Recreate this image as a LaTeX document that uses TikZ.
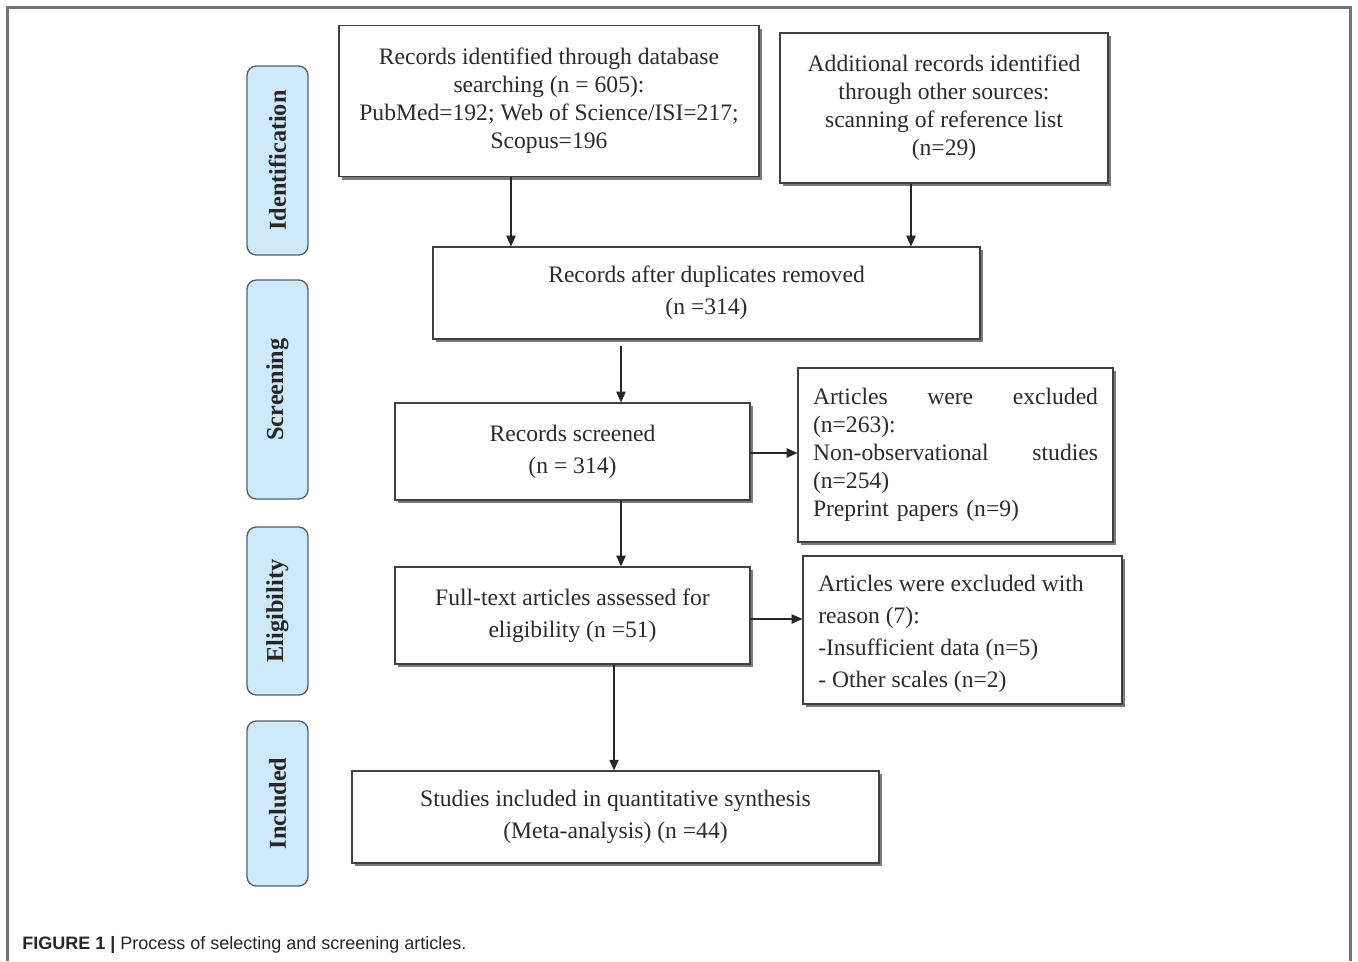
\documentclass[tikz,border=0pt]{standalone}
\usepackage{fontspec}
\setmainfont{Liberation Serif}
\newfontfamily\capfont{Liberation Sans}
\usetikzlibrary{arrows.meta,shadows}
\definecolor{stagefill}{HTML}{CDE9FA}
\definecolor{stageline}{HTML}{56606A}
\definecolor{inktext}{HTML}{2B2B2B}
\tikzset{
  box/.style={draw=black!75, line width=0.9pt, fill=white, align=center,
    text=inktext, font=\fontsize{17.7}{21}\selectfont, inner sep=0pt,
    drop shadow={shadow xshift=2.4pt, shadow yshift=-2.4pt, fill=black!65, opacity=0.8}},
  widebox/.style={box, font=\fontsize{17.7}{24}\selectfont},
  stage/.style={draw=stageline, line width=1pt, fill=stagefill, rounded corners=7pt,
    rotate=90, font=\fontsize{18.2}{20}\selectfont\bfseries, text=black!85,
    minimum height=45.75pt, inner sep=0pt},
  arr/.style={-{Triangle[length=8pt,width=7pt]}, line width=0.9pt, black!85},
}
\begin{document}
\begin{tikzpicture}[x=0.75pt, y=-0.75pt]
\useasboundingbox (0,0) rectangle (1358,961);
\draw[black!55, line width=1.6pt] (7.5,961) -- (7.5,7.5) -- (1350.5,7.5) -- (1350.5,961);

% stages
\node[stage, minimum width=141.75pt] (ident) at (277.5,160.5) {Identification};
\node[stage, minimum width=164.25pt] (screen) at (277.5,389.5) {Screening};
\node[stage, minimum width=126pt] (elig) at (277.5,611) {Eligibility};
\node[stage, minimum width=123.75pt] (incl) at (277.5,803.5) {Included};

% boxes
\node[box, minimum width=315pt, minimum height=113.25pt] (db) at (549,101)
  {Records identified through database\\searching (n = 605):\\PubMed=192; Web of Science/ISI=217;\\Scopus=196};
\node[box, minimum width=246pt, minimum height=112.5pt] (other) at (944,108)
  {Additional records identified\\through other sources:\\scanning of reference list\\(n=29)};
\node[widebox, minimum width=410.25pt, minimum height=69pt] (dup) at (706.5,293)
  {Records after duplicates removed\\(n =314)};
\node[widebox, minimum width=266.25pt, minimum height=72.75pt] (scr) at (572.5,451.5)
  {Records screened\\(n = 314)};
\node[box, minimum width=236.25pt, minimum height=130.5pt] (exone) at (955.5,455) {};
\node[text=inktext, font=\fontsize{17.7}{21}\selectfont, text width=213.75pt, align=left, inner sep=0pt]
  (exonetext) at (exone.center)
  {Articles\hfill were\hfill excluded\\(n=263):\\Non-observational\hfill studies\\(n=254)\\Preprint papers (n=9)};
\node[widebox, minimum width=266.25pt, minimum height=72.75pt] (full) at (572.5,615.5)
  {Full-text articles assessed for\\eligibility (n =51)};
\node[widebox, minimum width=239.25pt, minimum height=111pt] (extwo) at (962.5,630) {};
\node[text=inktext, font=\fontsize{17.7}{24}\selectfont, align=left, inner sep=0pt, anchor=west]
  (extwotext) at (818,634)
  {Articles were excluded with\\reason (7):\\-Insufficient data (n=5)\\- Other scales (n=2)};
\node[widebox, minimum width=395.25pt, minimum height=69pt] (incbox) at (615.5,817)
  {Studies included in quantitative synthesis\\(Meta-analysis) (n =44)};

% arrows
\draw[arr] (511,0 |- db.south) -- (511,0 |- dup.north);
\draw[arr] (911,0 |- other.south) -- (911,0 |- dup.north);
\draw[arr, shorten <=5pt] (621,0 |- dup.south) -- (621,0 |- scr.north);
\draw[arr] (621,0 |- scr.south) -- (621,0 |- full.north);
\draw[arr] (scr.east |- 0,453) -- (exone.west |- 0,453);
\draw[arr] (full.east |- 0,619) -- (extwo.west |- 0,619);
\draw[arr] (614,0 |- full.south) -- (614,0 |- incbox.north);

\node[anchor=west, inner sep=0pt, font=\capfont\fontsize{13.5}{16}\selectfont, text=black!85]
  (caption) at (22,945) {\textbf{FIGURE 1 |} Process of selecting and screening articles.};
\end{tikzpicture}
\end{document}
